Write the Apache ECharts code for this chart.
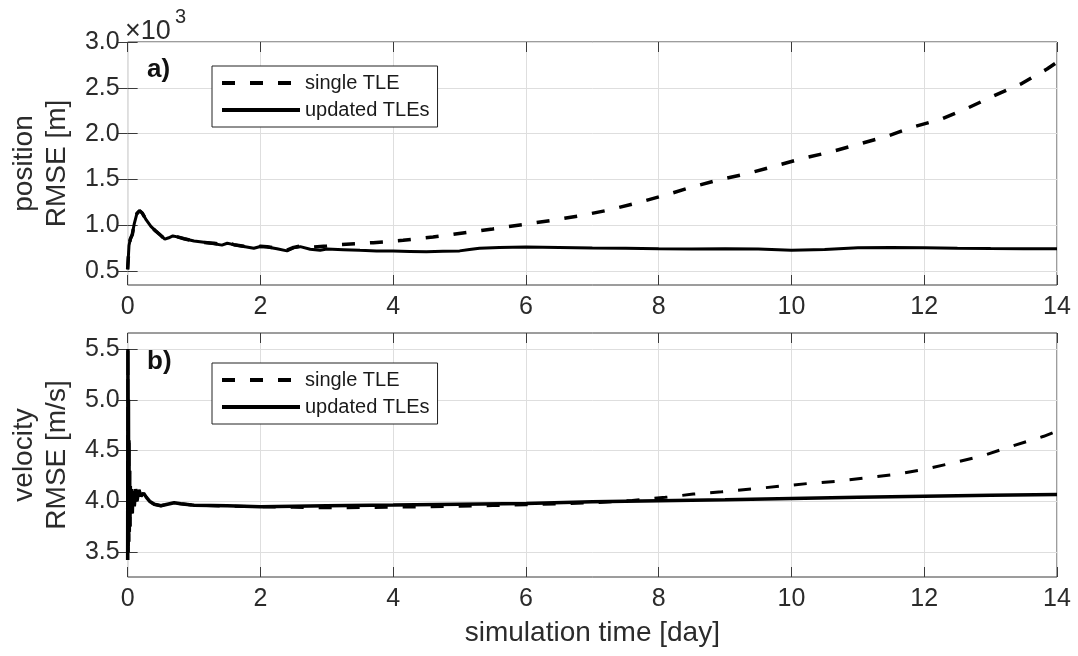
<!DOCTYPE html>
<html>
<head>
<meta charset="utf-8">
<script src="https://cdn.jsdelivr.net/npm/echarts@6/dist/echarts.min.js"></script>
<style>
html,body{margin:0;padding:0;background:#fff;}
#chart{width:1078px;height:656px;}
</style>
</head>
<body>
<div id="chart"></div>
<script>
// ---------- data ----------
var xTicks = [0, 2, 4, 6, 8, 10, 12, 14];
var posTicks = [500, 1000, 1500, 2000, 2500, 3000];
var velTicks = [3.5, 4.0, 4.5, 5.0, 5.5];
var seriesNames = ['single TLE', 'updated TLEs'];

// position RMSE [m], updated TLEs
var posTimeUpdated = [0,0.02,0.04,0.07,0.1,0.14,0.18,0.22,0.28,0.35,0.42,0.5,0.56,0.62,0.68,0.75,0.85,1.0,1.15,1.3,1.42,1.5,1.6,1.75,1.9,2.0,2.1,2.25,2.4,2.5,2.6,2.75,2.9,3.0,3.25,3.5,3.75,4.0,4.25,4.5,4.75,5.0,5.15,5.3,5.6,6.0,6.5,7.0,7.5,8.0,8.5,9.0,9.5,10.0,10.5,11.0,11.5,12.0,12.5,13.0,13.5,14.0];
var posUpdated = [520,780,850,900,1020,1130,1160,1135,1060,990,940,890,850,865,885,875,855,830,815,800,785,805,790,770,750,770,765,745,722,755,768,740,728,742,735,728,722,720,716,712,718,722,738,752,758,764,760,753,752,746,742,744,742,728,738,755,760,757,752,748,745,746];

// position RMSE [m], single TLE
var posTimeSingle = [0,0.02,0.04,0.07,0.1,0.14,0.18,0.22,0.28,0.35,0.42,0.5,0.56,0.62,0.68,0.75,0.85,1.0,1.15,1.3,1.42,1.5,1.6,1.75,1.9,2.0,2.1,2.25,2.4,2.5,2.6,2.8,3.0,3.2,3.7,4.15,4.6,5.05,5.5,5.95,6.4,6.85,7.25,7.67,8.1,8.5,8.92,9.35,9.75,10.17,10.6,11.02,11.45,11.85,12.25,12.65,13.05,13.45,13.85,14.0];
var posSingle = [520,780,850,900,1020,1130,1160,1135,1060,990,940,890,850,865,885,875,855,830,815,805,790,810,790,772,755,772,768,750,730,760,775,765,775,790,812,837,873,917,961,1009,1056,1110,1168,1245,1330,1418,1500,1567,1647,1731,1803,1887,1975,2077,2158,2278,2413,2540,2705,2780];

// velocity RMSE [m/s], updated TLEs
var velTimeUpdated = [0,0.004,0.008,0.012,0.016,0.02,0.025,0.03,0.035,0.04,0.05,0.06,0.07,0.08,0.1,0.12,0.14,0.17,0.2,0.24,0.28,0.33,0.4,0.5,0.6,0.7,0.8,1.0,1.5,2.0,2.5,3.0,4.0,5.0,6.0,7.0,8.0,9.0,10.0,11.0,12.0,13.0,14.0];
var velUpdated = [3.42,5.5,3.5,5.0,3.6,4.6,3.7,4.3,3.75,4.15,3.9,4.12,3.88,4.1,3.95,4.12,4.0,4.11,4.05,4.08,4.04,4.0,3.97,3.955,3.97,3.985,3.975,3.96,3.955,3.945,3.95,3.955,3.962,3.97,3.978,3.994,4.005,4.015,4.027,4.038,4.048,4.058,4.067];

// velocity RMSE [m/s], single TLE
var velTimeSingle = [0,0.004,0.008,0.012,0.016,0.02,0.025,0.03,0.035,0.04,0.05,0.06,0.07,0.08,0.1,0.12,0.14,0.17,0.2,0.24,0.28,0.33,0.4,0.5,0.6,0.7,0.8,1.0,1.5,2.0,2.5,3.0,3.5,4.0,4.5,5.0,5.5,6.0,6.6,7.1,7.6,8.1,8.52,8.95,9.4,9.85,10.27,10.72,11.15,11.6,12.02,12.45,12.87,13.3,13.8,14.0];
var velSingle = [3.42,5.5,3.5,5.0,3.6,4.6,3.7,4.3,3.75,4.15,3.9,4.12,3.88,4.1,3.95,4.12,4.0,4.11,4.05,4.08,4.04,4.0,3.97,3.955,3.97,3.985,3.975,3.96,3.952,3.945,3.94,3.935,3.937,3.942,3.945,3.95,3.957,3.965,3.976,3.988,4.008,4.038,4.07,4.093,4.12,4.149,4.176,4.199,4.232,4.268,4.317,4.38,4.446,4.538,4.64,4.69];

function zip(t, v) { return t.map(function (x, i) { return [x, v[i]]; }); }

// ---------- chart ----------
var FONT = '"Liberation Sans", Arial, Helvetica, sans-serif';
var TXT = '#2b2b2b';
var AX = '#3a3a3a';
var GRIDC = '#dedede';

var chart = echarts.init(document.getElementById('chart'), null, {renderer: 'canvas'});

function xAx(grid, pos, labels) {
  return {
    type: 'value', gridIndex: grid, position: pos, min: 0, max: 14, interval: 2,
    axisLine: {show: false},
    axisTick: {show: true, inside: true, length: 10, lineStyle: {color: AX, width: 1}},
    axisLabel: {show: labels, fontSize: 25, color: TXT, fontFamily: FONT, margin: 10},
    splitLine: {show: labels, lineStyle: {color: GRIDC, width: 1}}
  };
}
function yAx(grid, pos, labels, min, max, ticks, fmt) {
  return {
    type: 'value', gridIndex: grid, position: pos, min: min, max: max,
    axisLine: {show: false},
    axisTick: {show: true, inside: true, length: 10, lineStyle: {color: AX, width: 1}, customValues: ticks},
    axisLabel: {show: labels, fontSize: 25, color: TXT, fontFamily: FONT, margin: 8, customValues: ticks, formatter: fmt},
    splitLine: {show: labels, lineStyle: {color: GRIDC, width: 1}}
  };
}

var fmtPos = function (v) { return (v / 1000).toFixed(1); };
var fmtVel = function (v) { return v.toFixed(1); };

var yPos0 = yAx(0, 'left', true, 350, 3000, posTicks, fmtPos);
yPos0.name = 'position\nRMSE [m]';
yPos0.nameLocation = 'middle';
yPos0.nameRotate = 90;
yPos0.nameGap = 52;
yPos0.nameTextStyle = {fontSize: 28, color: TXT, fontFamily: FONT, lineHeight: 33};

var yVel0 = yAx(1, 'left', true, 3.253, 5.658, velTicks, fmtVel);
yVel0.name = 'velocity\nRMSE [m/s]';
yVel0.nameLocation = 'middle';
yVel0.nameRotate = 90;
yVel0.nameGap = 52;
yVel0.nameTextStyle = {fontSize: 28, color: TXT, fontFamily: FONT, lineHeight: 33};

var xBottom1 = xAx(1, 'bottom', true);
xBottom1.name = 'simulation time [day]';
xBottom1.nameLocation = 'middle';
xBottom1.nameGap = 42;
xBottom1.nameTextStyle = {fontSize: 28, color: TXT, fontFamily: FONT};

function legendCfg(top) {
  return {
    data: seriesNames, orient: 'vertical', left: 212, top: top,
    itemWidth: 78, itemHeight: 14, itemGap: 7,
    padding: [7, 8, 7, 8],
    backgroundColor: '#fff', borderColor: '#222', borderWidth: 1,
    textStyle: {fontSize: 20, color: '#1a1a1a', fontFamily: FONT, lineHeight: 20},
    itemStyle: {opacity: 0},
    lineStyle: {width: 4},
    selectedMode: false
  };
}

var lineBase = function (name, xi, yi, data, dashed, w) {
  return {
    name: name, type: 'line', xAxisIndex: xi, yAxisIndex: yi, data: data,
    showSymbol: false, symbol: 'none', smooth: false, color: '#000',
    itemStyle: {color: '#000'},
    lineStyle: {color: '#000', width: w, type: dashed ? [13, 15] : 'solid'},
    z: dashed ? 3 : 4
  };
};

var option = {
  animation: false,
  backgroundColor: '#fff',
  grid: [
    {left: 123, top: 42, width: 934, height: 243, show: true, borderColor: AX, borderWidth: 1, backgroundColor: 'transparent'},
    {left: 123, top: 333, width: 934, height: 244, show: true, borderColor: AX, borderWidth: 1, backgroundColor: 'transparent'}
  ],
  xAxis: [xAx(0, 'bottom', true), xAx(0, 'top', false), xBottom1, xAx(1, 'top', false)],
  yAxis: [yPos0, yAx(0, 'right', false, 350, 3000, posTicks, fmtPos), yVel0, yAx(1, 'right', false, 3.253, 5.658, velTicks, fmtVel)],
  legend: [legendCfg(66), legendCfg(363)],
  series: [
    lineBase(seriesNames[0], 0, 0, zip(posTimeSingle, posSingle), true, 3.5),
    lineBase(seriesNames[1], 0, 0, zip(posTimeUpdated, posUpdated), false, 3),
    lineBase(seriesNames[0], 2, 2, zip(velTimeSingle, velSingle), true, 3),
    lineBase(seriesNames[1], 2, 2, zip(velTimeUpdated, velUpdated), false, 3.5)
  ],
  graphic: [
    {type: 'text', left: 125, top: 18, style: {text: '×10', fontSize: 27, fill: TXT, fontFamily: FONT}},
    {type: 'text', left: 175, top: 7, style: {text: '3', fontSize: 20, fill: TXT, fontFamily: FONT}},
    {type: 'text', left: 147, top: 57, z: 10, style: {text: 'a)', fontSize: 26, fontWeight: 'bold', fill: '#111', fontFamily: FONT}},
    {type: 'text', left: 147, top: 349, z: 10, style: {text: 'b)', fontSize: 26, fontWeight: 'bold', fill: '#111', fontFamily: FONT}}
  ]
};
chart.setOption(option);
</script>
</body>
</html>
